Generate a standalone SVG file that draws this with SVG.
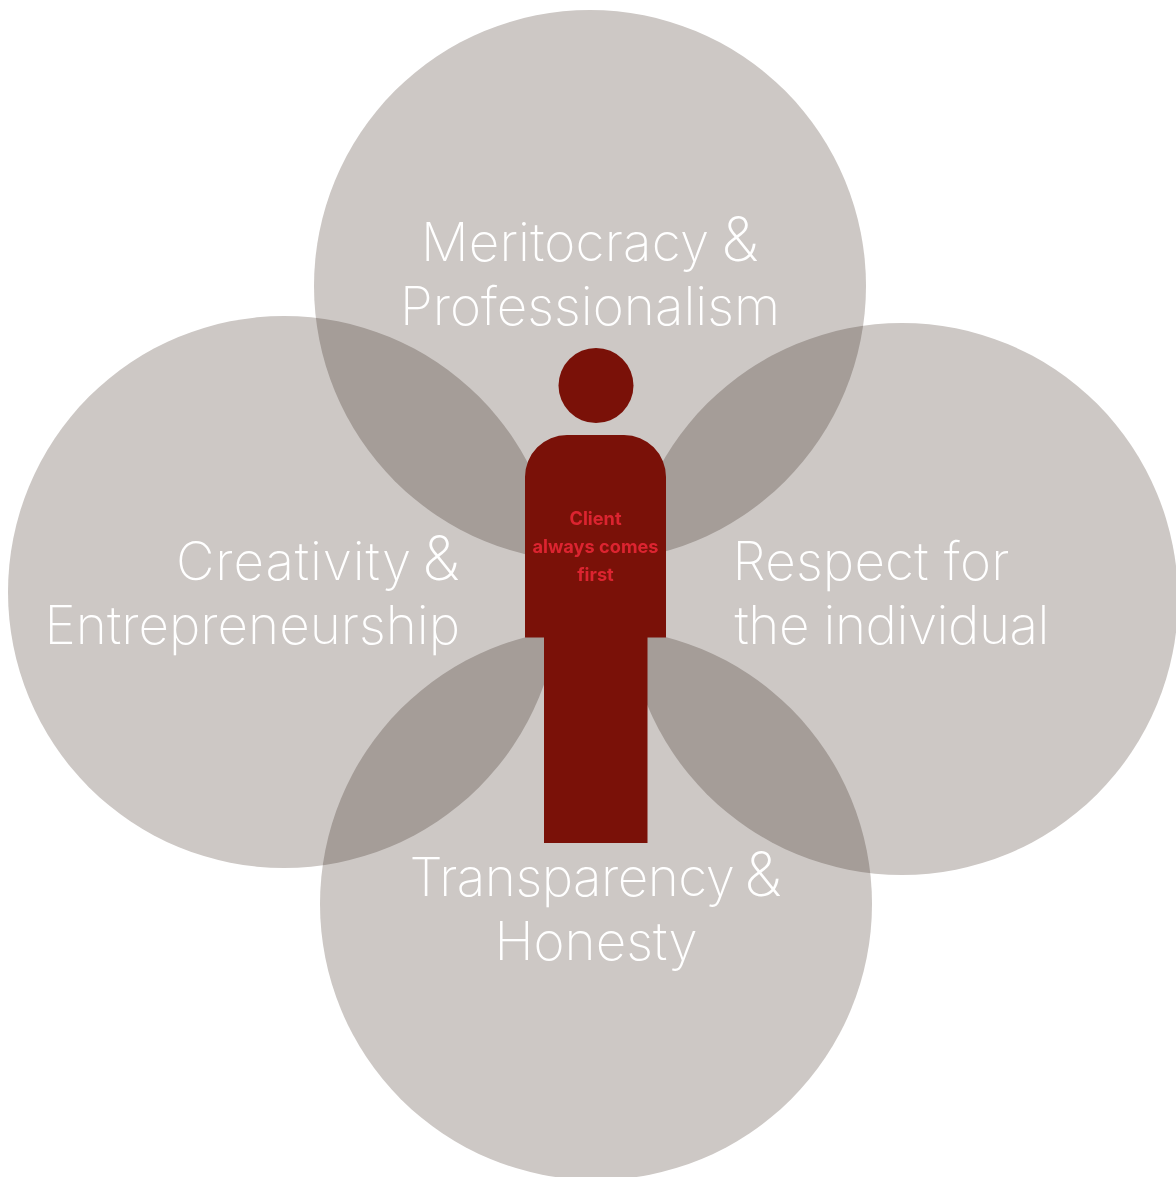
<svg xmlns="http://www.w3.org/2000/svg" width="1176" height="1177" viewBox="0 0 1176 1177">
<style>
.c{fill:#cdc8c5;mix-blend-mode:multiply}
.t{font-family:"Inter","Liberation Sans",sans-serif;font-weight:200;font-size:53px;fill:#fff}
.a{font-size:61px}
.s{font-family:"Inter","Liberation Sans",sans-serif;font-weight:700;font-size:18.200px;fill:#dc2430;text-anchor:middle}
.p{fill:#7a1108}
</style>
<rect width="1176" height="1177" fill="#fff"/>
<g id="circle-top"><circle class="c" cx="590" cy="286" r="276"/></g>
<g id="circle-left"><circle class="c" cx="284" cy="592" r="276"/></g>
<g id="circle-right"><circle class="c" cx="902" cy="599" r="276"/></g>
<g id="circle-bottom"><circle class="c" cx="596" cy="904" r="276"/></g>
<g id="person">
<circle class="p" cx="596" cy="385.500" r="37.500"/>
<path class="p" d="M525 637.500V477a42 42 0 0 1 42-42h57a42 42 0 0 1 42 42V637.500H647.500V843H544V637.500Z"/>
<text class="s" x="595.500" y="525">Client</text>
<text class="s" x="595.500" y="553">always comes</text>
<text class="s" x="595.500" y="581">first</text>
</g>
<g id="label-top"><text class="t" y="261"><tspan x="421" letter-spacing=".2">Meritocracy</tspan> <tspan class="a" x="721.500">&amp;</tspan></text><text class="t" text-anchor="middle" x="590" y="325">Professionalism</text></g>
<g id="label-left"><text class="t" y="580"><tspan x="176" letter-spacing=".9">Creativity</tspan> <tspan class="a" x="422.500">&amp;</tspan></text><text class="t" text-anchor="end" x="460" y="644">Entrepreneurship</text></g>
<g id="label-right"><text class="t" x="732.500" y="580" letter-spacing=".2">Respect for</text><text class="t" x="734.500" y="644" letter-spacing="-.45">the individual</text></g>
<g id="label-bottom"><text class="t" y="896"><tspan x="409.500" letter-spacing="-.5">Transparency</tspan> <tspan class="a" x="744.500">&amp;</tspan></text><text class="t" text-anchor="middle" x="596" y="960">Honesty</text></g>
</svg>
